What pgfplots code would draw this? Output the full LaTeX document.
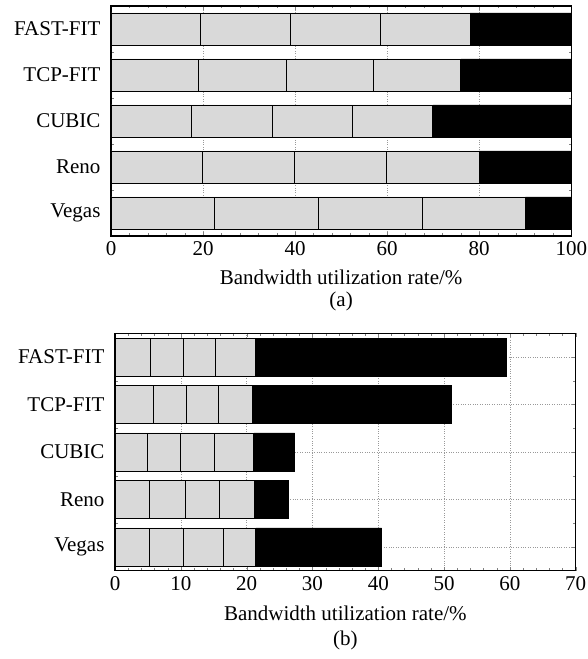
\documentclass[border=0pt]{standalone}
\usepackage{fontspec}
\setmainfont{Liberation Serif}
\usepackage{pgfplots}
\pgfplotsset{compat=1.18}
\definecolor{lg}{RGB}{217,217,217}
\begin{document}
\begin{tikzpicture}
\useasboundingbox (0pt,0pt) rectangle (588pt,659pt);
\pgfplotsset{
 common/.style={
  scale only axis, xbar stacked, anchor=south west,
  ymin=-0.5, ymax=4.5, ytick={0,...,4},
  yticklabels={Vegas,Reno,CUBIC,TCP-FIT,FAST-FIT},
  minor ytick={0.5,1.5,2.5,3.5},
  tick align=inside, major tick length=4pt, minor tick length=2.5pt,
  minor x tick num=4,
  xmajorgrids, ymajorgrids, grid style={dotted, gray!80, line width=0.6pt},
  tick label style={font=\fontsize{21}{25}\selectfont},
  xticklabel style={yshift=-2.5pt},
  yticklabel style={xshift=-7pt},
  label style={font=\fontsize{21}{25}\selectfont},
  /pgf/number format/assume math mode=true,
  axis line style={line width=1.2pt},
  clip=false,
 }}
\begin{axis}[common, at={(111pt,423pt)}, width=460.3pt, height=230pt,
  bar width=32pt, xmin=0, xmax=100, xtick={0,20,...,100},
  xlabel={Bandwidth utilization rate/\%},
  xlabel style={at={(axis description cs:0.5,-0.178)}, anchor=center}]
\addplot[fill=lg, draw=black, line width=0.8pt] coordinates {(22.4,0) (19.9,1) (17.4,2) (18.9,3) (19.4,4)};
\addplot[fill=lg, draw=black, line width=0.8pt] coordinates {(22.6,0) (20.0,1) (17.6,2) (19.1,3) (19.6,4)};
\addplot[fill=lg, draw=black, line width=0.8pt] coordinates {(22.6,0) (20.0,1) (17.5,2) (19.0,3) (19.5,4)};
\addplot[fill=lg, draw=black, line width=0.8pt] coordinates {(22.4,0) (20.1,1) (17.4,2) (19.0,3) (19.5,4)};
\addplot[fill=black, draw=black, line width=0.8pt] coordinates {(10.0,0) (20.0,1) (30.1,2) (24.0,3) (22.0,4)};
\node[font=\fontsize{21}{25}\selectfont] at (rel axis cs:0.5,-0.285) {(a)};
\end{axis}
\begin{axis}[common, at={(115pt,88.3pt)}, width=460.7pt, height=237.4pt,
  bar width=38pt, xmin=0, xmax=70, xtick={0,10,...,70},
  xlabel={Bandwidth utilization rate/\%},
  xlabel style={at={(axis description cs:0.5,-0.18)}, anchor=center}]
\addplot[fill=lg, draw=black, line width=0.8pt] coordinates {(5.3,0) (5.2,1) (4.9,2) (5.9,3) (5.4,4)};
\addplot[fill=lg, draw=black, line width=0.8pt] coordinates {(5.1,0) (5.5,1) (5.1,2) (4.9,3) (5.0,4)};
\addplot[fill=lg, draw=black, line width=0.8pt] coordinates {(6.1,0) (5.1,1) (5.15,2) (4.9,3) (4.9,4)};
\addplot[fill=lg, draw=black, line width=0.8pt] coordinates {(4.9,0) (5.4,1) (5.95,2) (5.2,3) (6.0,4)};
\addplot[fill=black, draw=black, line width=0.8pt] coordinates {(19.1,0) (5.2,1) (6.2,2) (30.2,3) (38.2,4)};
\node[font=\fontsize{21}{25}\selectfont] at (rel axis cs:0.5,-0.295) {(b)};
\end{axis}
\end{tikzpicture}
\end{document}
